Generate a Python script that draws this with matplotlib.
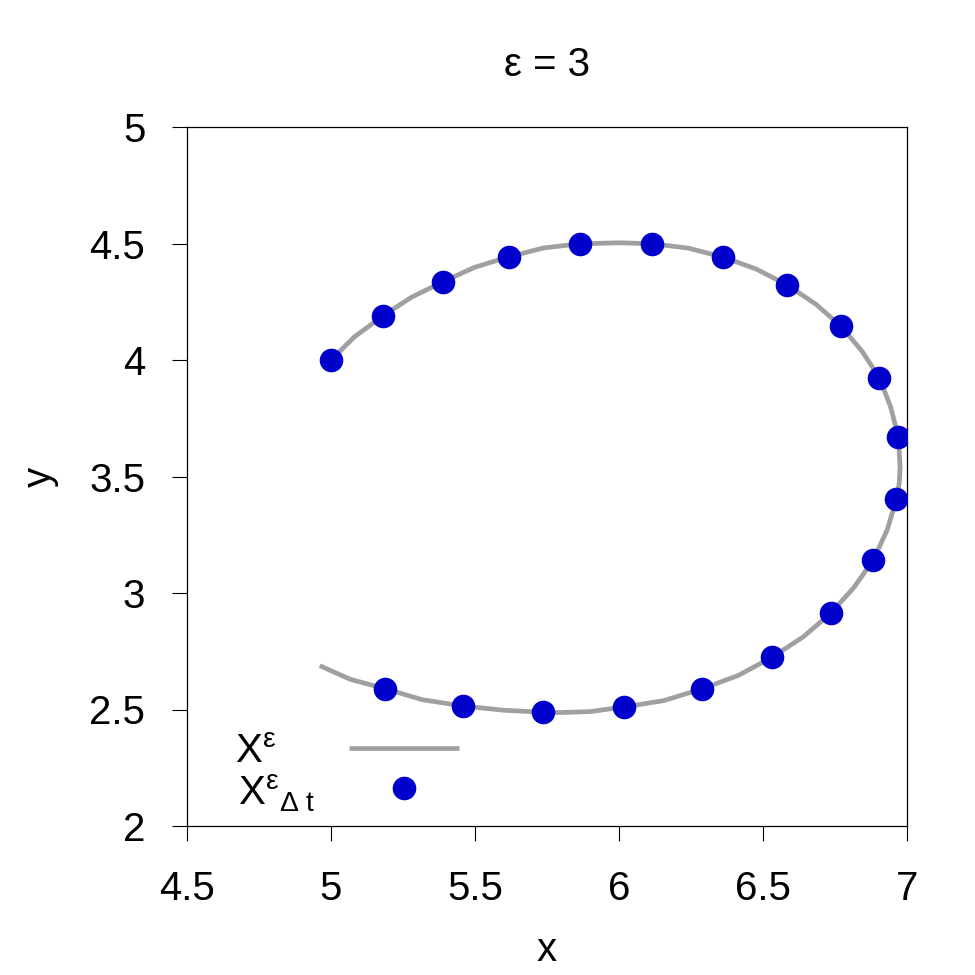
import numpy as np
import matplotlib
matplotlib.use('Agg')
from matplotlib import pyplot as plt
from matplotlib.lines import Line2D

# trajectory X^eps
line_x = [5.000, 5.082, 5.180, 5.279, 5.389, 5.499, 5.618, 5.739, 5.865, 6.000,
          6.116, 6.241, 6.361, 6.477, 6.584, 6.683, 6.770, 6.843, 6.904, 6.943,
          6.970, 6.973, 6.976, 6.973, 6.963, 6.931, 6.883, 6.816, 6.735, 6.640,
          6.531, 6.414, 6.287, 6.155, 6.018, 5.900, 5.800, 5.737, 5.598, 5.459,
          5.317, 5.189, 5.068, 4.961]
line_y = [4.000, 4.100, 4.189, 4.269, 4.336, 4.398, 4.443, 4.481, 4.499, 4.503,
          4.499, 4.480, 4.442, 4.390, 4.322, 4.240, 4.146, 4.039, 3.924, 3.799,
          3.670, 3.605, 3.540, 3.470, 3.402, 3.270, 3.142, 3.024, 2.913, 2.812,
          2.724, 2.646, 2.588, 2.538, 2.511, 2.491, 2.487, 2.488, 2.497, 2.515,
          2.542, 2.589, 2.629, 2.688]

# discrete scheme X^eps_dt
pts_x = [5.00, 5.180, 5.389, 5.618, 5.865, 6.116, 6.361, 6.584, 6.770, 6.904,
         6.970, 6.963, 6.883, 6.735, 6.531, 6.287, 6.018, 5.737, 5.459, 5.189]
pts_y = [4.00, 4.189, 4.336, 4.443, 4.499, 4.499, 4.442, 4.322, 4.146, 3.924,
         3.670, 3.402, 3.142, 2.913, 2.724, 2.588, 2.511, 2.488, 2.515, 2.589]

xticks = [4.5, 5, 5.5, 6, 6.5, 7]
xticklabels = ['4.5', '5', '5.5', '6', '6.5', '7']
yticks = [2, 2.5, 3, 3.5, 4, 4.5, 5]
yticklabels = ['2', '2.5', '3', '3.5', '4', '4.5', '5']

legend_labels = [r'X$^{\varepsilon}$', r'X$^{\varepsilon}{}_{\Delta\ t}$']

line_color = '#a0a0a0'
dot_color = '#0000cc'

plt.rcParams['font.family'] = ['Liberation Sans', 'DejaVu Sans']
plt.rcParams['mathtext.fontset'] = 'custom'
plt.rcParams['mathtext.rm'] = 'Liberation Sans'
plt.rcParams['mathtext.it'] = 'Liberation Sans'
plt.rcParams['mathtext.sf'] = 'Liberation Sans'

fig = plt.figure(figsize=(9.75, 9.75), dpi=100)
ax = fig.add_axes([187 / 975, 1 - 826 / 975, 720 / 975, 699 / 975])

ax.plot(line_x, line_y, color=line_color, lw=3.4, solid_capstyle='butt', zorder=2)
ax.plot(pts_x, pts_y, ls='none', marker='o', ms=17, color=dot_color, mec='none', zorder=3)

ax.set_xlim(4.5, 7)
ax.set_ylim(2, 5)
ax.set_xticks(xticks)
ax.set_xticklabels(xticklabels)
ax.set_yticks(yticks)
ax.set_yticklabels(yticklabels)
ax.tick_params(direction='out', length=11, width=0.8, labelsize=29, pad=19)
ax.tick_params(axis='x', pad=21)
for s in ax.spines.values():
    s.set_linewidth(0.9)

ax.set_xlabel('x', fontsize=29, labelpad=16)
ax.set_ylabel('y', fontsize=29, labelpad=22)
ax.set_title('ε = 3', fontsize=29, pad=37)

# legend: keys from a legend, labels to the left of them (left aligned)
handles = [Line2D([], [], color=line_color, lw=3.4, solid_capstyle='butt'),
           Line2D([], [], ls='none', marker='o', ms=17, color=dot_color, mec='none')]
ax.legend(handles, ['', ''], loc='center left', bbox_to_anchor=(0.225, 0.079),
          frameon=False, fontsize=29, handlelength=2.73, handletextpad=0,
          labelspacing=0.05, borderpad=0, borderaxespad=0)
for lab, xl, yb in zip(legend_labels, [0.0667, 0.071], [0.090, 0.030]):
    ax.text(xl, yb, lab, transform=ax.transAxes, fontsize=29,
            ha='left', va='baseline')

fig.savefig('out.png', dpi=100)
